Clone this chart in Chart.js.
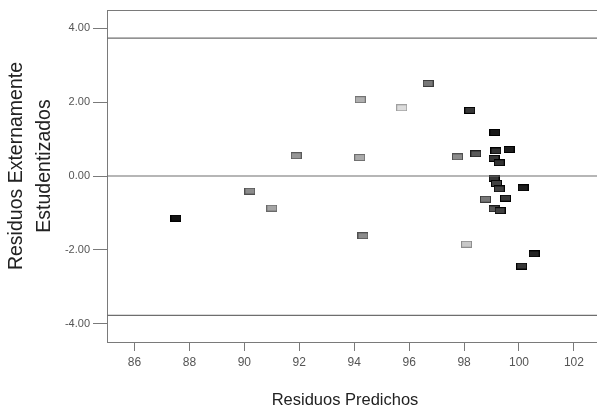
<!DOCTYPE html>
<html>
<head>
<meta charset="utf-8">
<script src="https://cdn.jsdelivr.net/npm/chart.js@4/dist/chart.umd.min.js"></script>
<style>
  html, body { margin: 0; padding: 0; background: #fff; }
  #wrap { width: 597px; height: 417px; position: relative; }
</style>
</head>
<body>
<div id="wrap"><canvas id="resChart"></canvas></div>
<script>
// predicted value vs. externally studentized residual, one entry per case
const predicted = [87.51, 90.20, 91.00, 91.89, 94.22, 94.20, 94.32, 95.73, 96.69, 98.21,
                   97.76, 98.43, 98.09, 98.78, 99.12, 99.64, 99.16, 99.09, 99.28, 99.09,
                   99.18, 99.28, 100.15, 99.51, 99.09, 99.31, 100.55, 100.10];
const residuals = [-1.14, -0.41, -0.87, 0.55, 2.07, 0.50, -1.62, 1.85, 2.51, 1.78,
                   0.52, 0.60, -1.85, -0.63, 1.18, 0.72, 0.68, 0.48, 0.36, -0.06,
                   -0.20, -0.35, -0.32, -0.60, -0.89, -0.94, -2.11, -2.44];
// grey level of each marker
const markerShades = [20, 140, 165, 150, 175, 170, 140, 220, 120, 55,
                      140, 90, 200, 120, 25, 30, 50, 55, 50, 55,
                      65, 65, 30, 55, 85, 65, 35, 55];

const xTicks = [86, 88, 90, 92, 94, 96, 98, 100, 102];
const yTicks = [-4, -2, 0, 2, 4];
const refLevels = [3.74, 0, -3.78];
const xMin = 85, xMax = 102.84;

const xTitle = 'Residuos Predichos';
const yTitle = ['Residuos Externamente', 'Estudentizados'];

const axisGrey = '#7a7a7a';
const sans = "'Liberation Sans', Arial, sans-serif";
const tickFont = { family: "'Liberation Sans Narrow', 'Liberation Sans', Arial, sans-serif", size: 12 };

function makeMarker(g) {
  const c = document.createElement('canvas');
  c.width = 11; c.height = 7;
  const ctx = c.getContext('2d');
  const b = Math.max(0, g - 60);
  ctx.fillStyle = 'rgb(' + g + ',' + g + ',' + g + ')';
  ctx.fillRect(0, 0, 11, 7);
  ctx.strokeStyle = 'rgb(' + b + ',' + b + ',' + b + ')';
  ctx.lineWidth = 1;
  ctx.strokeRect(0.5, 0.5, 10, 6);
  return c;
}
const markers = markerShades.map(makeMarker);

const points = predicted.map((x, i) => ({ x: x, y: residuals[i] }));

const refSets = refLevels.map(v => ({
  type: 'line',
  data: [{ x: xMin, y: v }, { x: xMax, y: v }],
  borderColor: '#6e6e6e',
  borderWidth: 1.2,
  pointRadius: 0,
  fill: false
}));

// top frame line and the two axis titles
const frameAndTitles = {
  id: 'frameAndTitles',
  afterDraw(chart) {
    const { ctx, chartArea } = chart;
    ctx.save();
    ctx.strokeStyle = axisGrey;
    ctx.lineWidth = 1;
    ctx.beginPath();
    ctx.moveTo(chartArea.left, chartArea.top + 0.5);
    ctx.lineTo(chartArea.right, chartArea.top + 0.5);
    ctx.stroke();

    ctx.fillStyle = '#222';
    ctx.textAlign = 'center';
    ctx.textBaseline = 'middle';
    ctx.font = '16.5px ' + sans;
    ctx.fillText(xTitle, chartArea.left + 238, 400);

    ctx.font = '19.5px ' + sans;
    ctx.translate(0, 166);
    ctx.rotate(-Math.PI / 2);
    yTitle.forEach((line, i) => ctx.fillText(line, 0, 17 + i * 28));
    ctx.restore();
  }
};

new Chart(document.getElementById('resChart'), {
  type: 'scatter',
  data: {
    datasets: refSets.concat([{
      data: points,
      pointStyle: ctx => markers[ctx.dataIndex],
      pointRadius: 5,
      pointHoverRadius: 5
    }])
  },
  options: {
    responsive: true,
    maintainAspectRatio: false,
    animation: false,
    layout: { autoPadding: false, padding: { top: 10, right: 0, bottom: 0, left: 0 } },
    plugins: { legend: { display: false }, tooltip: { enabled: false } },
    scales: {
      x: {
        type: 'linear',
        min: xMin,
        max: xMax,
        afterBuildTicks: s => { s.ticks = xTicks.map(v => ({ value: v })); },
        afterFit: s => { s.height = 75; s.paddingLeft = 0; s.paddingRight = 0; },
        grid: { drawOnChartArea: false, drawTicks: true, tickLength: 9, color: axisGrey },
        border: { display: true, color: axisGrey, width: 1 },
        ticks: { color: '#555', font: tickFont, padding: 4, maxRotation: 0 }
      },
      y: {
        type: 'linear',
        min: -4.5,
        max: 4.5,
        afterBuildTicks: s => { s.ticks = yTicks.map(v => ({ value: v })); },
        afterFit: s => { s.width = 107; s.paddingTop = 0; s.paddingBottom = 0; },
        grid: { drawOnChartArea: false, drawTicks: true, tickLength: 14, color: axisGrey },
        border: { display: true, color: axisGrey, width: 1 },
        ticks: {
          color: '#555',
          font: { family: tickFont.family, size: 11 },
          padding: 3,
          callback: v => v.toFixed(2)
        }
      }
    }
  },
  plugins: [frameAndTitles]
});
</script>
</body>
</html>
